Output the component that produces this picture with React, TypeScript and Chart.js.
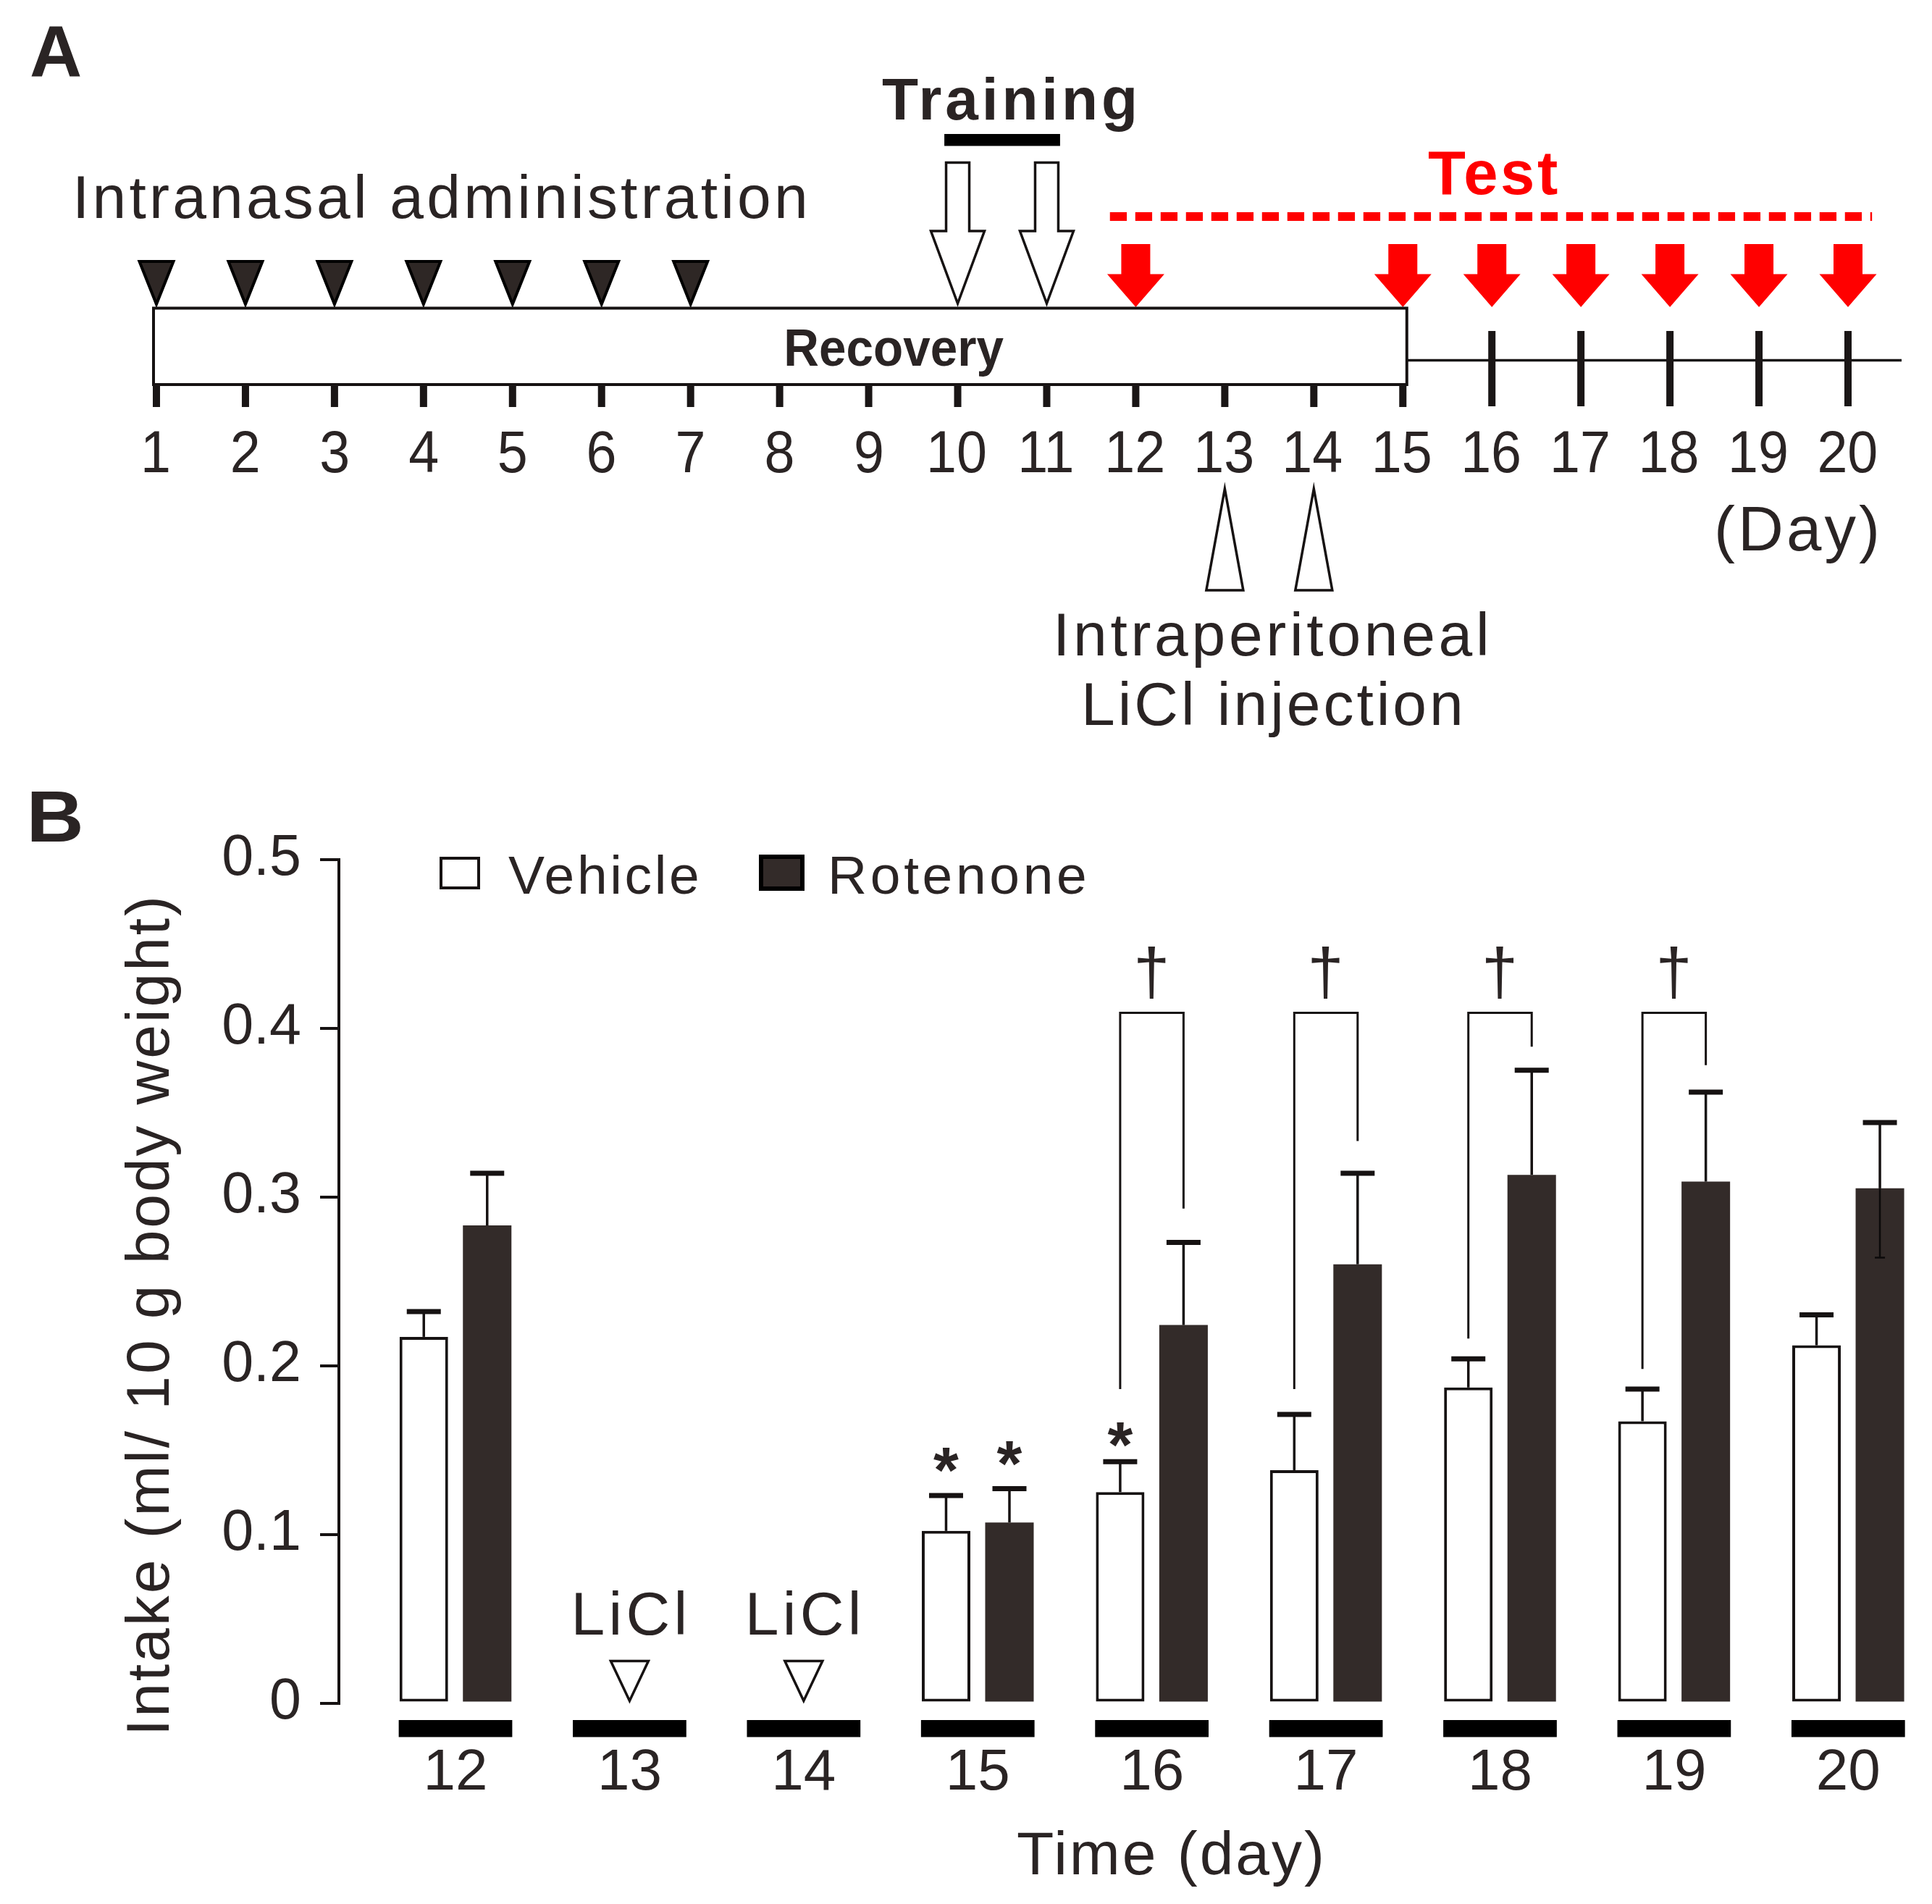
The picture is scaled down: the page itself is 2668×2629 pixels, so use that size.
import React, { useEffect, useRef } from 'react';
import { Chart, registerables } from 'chart.js';

Chart.register(...registerables);

const W = 2668;
const H = 2629;
const FONT = '"Liberation Sans", Arial, Helvetica, sans-serif';
const INK = '#2a2424';
const LINE = '#161212';
const DARK_BAR = '#332b29';
const RED = '#ff0000';

// ---------- Panel A (timeline) ----------
const timelineDays = [1, 2, 3, 4, 5, 6, 7, 8, 9, 10, 11, 12, 13, 14, 15, 16, 17, 18, 19, 20];
const intranasalDays = [1, 2, 3, 4, 5, 6, 7];
const trainingDays = [10, 11];
const testDays = [12, 15, 16, 17, 18, 19, 20];
const liclInjectionDays = [13, 14];
const recoveryDays = [1, 15];

// ---------- Panel B (intake) ----------
const intakeDays = [12, 13, 14, 15, 16, 17, 18, 19, 20];
const vehicleMean = [0.217, null, null, 0.102, 0.125, 0.138, 0.187, 0.167, 0.212];
const vehicleSem = [0.015, null, null, 0.021, 0.018, 0.033, 0.017, 0.019, 0.018];
const rotenoneMean = [0.283, null, null, 0.107, 0.224, 0.26, 0.313, 0.309, 0.305];
const rotenoneSem = [0.031, null, null, 0.02, 0.049, 0.054, 0.062, 0.053, 0.039];
const rotenoneLowerSem = [null, null, null, null, null, null, null, null, 0.041];
const yTicks = [0, 0.1, 0.2, 0.3, 0.4, 0.5];

const starSeries = [0, 1, 0];
const starDays = [15, 15, 16];
const starLevel = [0.144, 0.148, 0.159];

const bracketDays = [16, 17, 18, 19];
const bracketVehicleEnd = [0.186, 0.186, 0.216, 0.198];
const bracketRotenoneEnd = [0.293, 0.333, 0.389, 0.378];
const bracketTop = [0.409, 0.409, 0.409, 0.409];
const daggerLevel = [0.433, 0.433, 0.433, 0.433];

const liclDays = [13, 14];

// ---------- text helpers ----------
function setFont(ctx: CanvasRenderingContext2D, size: number, weight = 'normal') {
  ctx.font = `${weight} ${size}px ${FONT}`;
}

function fitText(
  ctx: CanvasRenderingContext2D,
  text: string,
  x0: number,
  x1: number,
  baseline: number,
  size: number,
  weight: string,
  color: string
) {
  ctx.save();
  setFont(ctx, size, weight);
  ctx.fillStyle = color;
  ctx.textAlign = 'left';
  ctx.textBaseline = 'alphabetic';
  const m = ctx.measureText(text);
  const inkL = m.actualBoundingBoxLeft;
  const ink = m.actualBoundingBoxLeft + m.actualBoundingBoxRight;
  const target = x1 - x0;
  const c: any = ctx;
  if (target >= ink && text.length > 1 && 'letterSpacing' in c) {
    const ls = (target - ink) / (text.length - 1);
    c.letterSpacing = `${ls}px`;
    ctx.fillText(text, x0 + inkL, baseline);
    c.letterSpacing = '0px';
  } else {
    const s = target / ink;
    ctx.translate(x0, baseline);
    ctx.scale(s, 1);
    ctx.fillText(text, inkL, 0);
  }
  ctx.restore();
}

function centerText(
  ctx: CanvasRenderingContext2D,
  text: string,
  cx: number,
  baseline: number,
  size: number,
  sx: number,
  color: string,
  weight = 'normal'
) {
  ctx.save();
  setFont(ctx, size, weight);
  ctx.fillStyle = color;
  ctx.textAlign = 'left';
  ctx.textBaseline = 'alphabetic';
  const m = ctx.measureText(text);
  ctx.translate(cx, baseline);
  ctx.scale(sx, 1);
  ctx.fillText(text, -(m.actualBoundingBoxRight - m.actualBoundingBoxLeft) / 2, 0);
  ctx.restore();
}

function glyphAt(
  ctx: CanvasRenderingContext2D,
  text: string,
  cx: number,
  cy: number,
  inkHeight: number,
  color: string,
  weight = 'normal'
) {
  ctx.save();
  setFont(ctx, 100, weight);
  let m = ctx.measureText(text);
  const h = m.actualBoundingBoxAscent + m.actualBoundingBoxDescent;
  setFont(ctx, (100 * inkHeight) / h, weight);
  m = ctx.measureText(text);
  ctx.fillStyle = color;
  ctx.textAlign = 'left';
  ctx.textBaseline = 'alphabetic';
  const x = cx - (m.actualBoundingBoxRight - m.actualBoundingBoxLeft) / 2;
  const y = cy + (m.actualBoundingBoxAscent - m.actualBoundingBoxDescent) / 2;
  ctx.fillText(text, x, y);
  ctx.restore();
}

function poly(ctx: CanvasRenderingContext2D, pts: number[][]) {
  ctx.beginPath();
  pts.forEach((p, i) => (i === 0 ? ctx.moveTo(p[0], p[1]) : ctx.lineTo(p[0], p[1])));
  ctx.closePath();
}

// ---------- Panel A plugin ----------
const panelAPlugin = {
  id: 'panelA',
  afterDraw(chart: any) {
    const ctx: CanvasRenderingContext2D = chart.ctx;
    const xs = chart.scales.x;
    const X = (d: number) => xs.getPixelForValue(d);
    const dayW = X(2) - X(1);
    ctx.save();
    ctx.lineJoin = 'miter';

    fitText(ctx, 'A', 43, 111, 106, 100, 'bold', INK);

    // Training
    fitText(ctx, 'Training', 1218, 1566, 165, 82, 'bold', INK);
    const t0 = X(trainingDays[0]) - 0.15 * dayW;
    const t1 = X(trainingDays[trainingDays.length - 1]) + 0.15 * dayW;
    ctx.fillStyle = '#000';
    ctx.fillRect(t0, 185, t1 - t0, 16.5);
    trainingDays.forEach((d) => {
      const x = X(d);
      poly(ctx, [
        [x - 16, 224.5],
        [x + 16, 224.5],
        [x + 16, 319],
        [x + 37, 319],
        [x, 419],
        [x - 37, 319],
        [x - 16, 319],
      ]);
      ctx.fillStyle = '#fff';
      ctx.fill();
      ctx.strokeStyle = LINE;
      ctx.lineWidth = 3.5;
      ctx.stroke();
    });

    // Intranasal administration
    fitText(ctx, 'Intranasal administration', 107, 1111, 301, 84, 'normal', INK);
    intranasalDays.forEach((d) => {
      const x = X(d);
      poly(ctx, [
        [x - 23.5, 361],
        [x + 23.5, 361],
        [x, 420],
      ]);
      ctx.fillStyle = '#2e2725';
      ctx.fill();
      ctx.strokeStyle = '#000';
      ctx.lineWidth = 4;
      ctx.stroke();
    });

    // Test
    fitText(ctx, 'Test', 1972, 2151, 268, 85, 'bold', RED);
    ctx.save();
    ctx.strokeStyle = RED;
    ctx.lineWidth = 12;
    ctx.setLineDash([23.3, 11.7]);
    ctx.beginPath();
    ctx.moveTo(X(testDays[0]) - 0.29 * dayW, 299);
    ctx.lineTo(X(testDays[testDays.length - 1]) + 0.27 * dayW, 299);
    ctx.stroke();
    ctx.restore();
    testDays.forEach((d) => {
      const x = X(d);
      poly(ctx, [
        [x - 20, 337],
        [x + 20, 337],
        [x + 20, 378.5],
        [x + 39.5, 378.5],
        [x, 424],
        [x - 39.5, 378.5],
        [x - 20, 378.5],
      ]);
      ctx.fillStyle = RED;
      ctx.fill();
    });

    // Recovery box
    const bx0 = X(recoveryDays[0]) - 4;
    const bx1 = X(recoveryDays[1]) + 5.5;
    ctx.fillStyle = '#fff';
    ctx.fillRect(bx0, 425.5, bx1 - bx0, 105.5);
    ctx.strokeStyle = LINE;
    ctx.lineWidth = 4;
    ctx.strokeRect(bx0, 425.5, bx1 - bx0, 105.5);
    fitText(ctx, 'Recovery', 1086, 1386, 504.5, 72, 'bold', INK);

    // line after box
    ctx.lineWidth = 3.5;
    ctx.beginPath();
    ctx.moveTo(bx1, 497.4);
    ctx.lineTo(X(timelineDays[timelineDays.length - 1]) + 74, 497.4);
    ctx.stroke();

    // ticks
    ctx.fillStyle = '#1a1616';
    timelineDays.forEach((d) => {
      const x = X(d);
      if (d <= recoveryDays[1]) ctx.fillRect(x - 5, 531, 10, 31);
      else ctx.fillRect(x - 5, 457, 10, 104);
    });

    // day labels
    timelineDays.forEach((d) => {
      centerText(ctx, String(d), X(d), 651.5, 82, 0.92, INK);
    });
    fitText(ctx, '(Day)', 2372, 2591, 760, 87, 'normal', INK);

    // LiCl injection
    liclInjectionDays.forEach((d) => {
      const x = X(d);
      poly(ctx, [
        [x, 675],
        [x + 25.5, 815],
        [x - 25.5, 815],
      ]);
      ctx.fillStyle = '#fff';
      ctx.fill();
      ctx.strokeStyle = LINE;
      ctx.lineWidth = 3.5;
      ctx.stroke();
    });
    fitText(ctx, 'Intraperitoneal', 1461, 2052, 905, 84, 'normal', INK);
    fitText(ctx, 'LiCl injection', 1499, 2016, 1001, 84, 'normal', INK);
    ctx.restore();
  },
};

// ---------- Panel B plugin ----------
const panelBPlugin = {
  id: 'panelB',
  afterDraw(chart: any) {
    const ctx: CanvasRenderingContext2D = chart.ctx;
    const xs = chart.scales.x;
    const ys = chart.scales.y;
    const area = chart.chartArea;
    const metaV = chart.getDatasetMeta(0);
    const metaR = chart.getDatasetMeta(1);
    const dayW = xs.getPixelForValue(intakeDays[1]) - xs.getPixelForValue(intakeDays[0]);
    ctx.save();

    // error bars
    const drawErr = (meta: any, means: (number | null)[], sems: (number | null)[], lowers: (number | null)[] | null) => {
      meta.data.forEach((bar: any, i: number) => {
        const m = means[i];
        const s = sems[i];
        if (m == null || s == null) return;
        const x = bar.x;
        const yBar = ys.getPixelForValue(m);
        const yTop = ys.getPixelForValue(m + s);
        ctx.strokeStyle = LINE;
        ctx.lineWidth = 3.5;
        ctx.beginPath();
        ctx.moveTo(x, yBar);
        ctx.lineTo(x, yTop);
        ctx.stroke();
        ctx.lineWidth = 7;
        ctx.beginPath();
        ctx.moveTo(x - 23.5, yTop);
        ctx.lineTo(x + 23.5, yTop);
        ctx.stroke();
        const lo = lowers ? lowers[i] : null;
        if (lo != null) {
          const yLo = ys.getPixelForValue(m - lo);
          ctx.strokeStyle = '#0c0a0a';
          ctx.lineWidth = 2.5;
          ctx.beginPath();
          ctx.moveTo(x, yBar);
          ctx.lineTo(x, yLo);
          ctx.moveTo(x - 7, yLo);
          ctx.lineTo(x + 7, yLo);
          ctx.stroke();
        }
      });
    };
    drawErr(metaV, vehicleMean, vehicleSem, null);
    drawErr(metaR, rotenoneMean, rotenoneSem, rotenoneLowerSem);

    // base bars under each day
    ctx.fillStyle = '#000';
    intakeDays.forEach((d) => {
      const x = xs.getPixelForValue(d);
      const w = 0.652 * dayW;
      ctx.fillRect(x - w / 2, area.bottom + 23.5, w, 23.5);
    });

    // stars
    starDays.forEach((d, k) => {
      const idx = intakeDays.indexOf(d);
      const meta = starSeries[k] === 0 ? metaV : metaR;
      const x = meta.data[idx].x;
      glyphAt(ctx, '*', x, ys.getPixelForValue(starLevel[k]), 34, INK, 'bold');
    });

    // brackets with daggers
    bracketDays.forEach((d, k) => {
      const idx = intakeDays.indexOf(d);
      const xl = metaV.data[idx].x;
      const xr = metaR.data[idx].x;
      const yt = ys.getPixelForValue(bracketTop[k]);
      ctx.strokeStyle = LINE;
      ctx.lineWidth = 3;
      ctx.beginPath();
      ctx.moveTo(xl, ys.getPixelForValue(bracketVehicleEnd[k]));
      ctx.lineTo(xl, yt);
      ctx.lineTo(xr, yt);
      ctx.lineTo(xr, ys.getPixelForValue(bracketRotenoneEnd[k]));
      ctx.stroke();
      glyphAt(ctx, '\u2020', (xl + xr) / 2, ys.getPixelForValue(daggerLevel[k]), 72, INK);
    });

    // LiCl markers
    liclDays.forEach((d) => {
      const x = xs.getPixelForValue(d);
      fitText(ctx, 'LiCl', x - 75, x + 75, area.bottom - 95, 84, 'normal', INK);
      poly(ctx, [
        [x - 26, area.bottom - 58],
        [x + 26, area.bottom - 58],
        [x, area.bottom - 3],
      ]);
      ctx.fillStyle = '#fff';
      ctx.fill();
      ctx.strokeStyle = LINE;
      ctx.lineWidth = 3.5;
      ctx.stroke();
    });

    // legend
    const ds = chart.data.datasets;
    ctx.fillStyle = '#fff';
    ctx.fillRect(609, 1185, 52, 41);
    ctx.strokeStyle = LINE;
    ctx.lineWidth = 4;
    ctx.strokeRect(609, 1185, 52, 41);
    fitText(ctx, ds[0].label, 702, 963, 1234, 75, 'normal', INK);
    ctx.fillStyle = DARK_BAR;
    ctx.fillRect(1051, 1183, 57, 44);
    ctx.strokeStyle = '#000';
    ctx.lineWidth = 6;
    ctx.strokeRect(1051, 1183, 57, 44);
    fitText(ctx, ds[1].label, 1149, 1498, 1234, 75, 'normal', INK);

    // panel label and titles
    fitText(ctx, 'B', 43, 111, 1162, 100, 'bold', INK);
    fitText(ctx, 'Time (day)', 1405, 1824, 2588, 84, 'normal', INK);
    ctx.save();
    ctx.translate(233, 2390);
    ctx.rotate(-Math.PI / 2);
    fitText(ctx, 'Intake (ml/ 10 g body weight)', 0, 1148, 0, 84, 'normal', INK);
    ctx.restore();

    ctx.restore();
  },
};

export default function App() {
  const refA = useRef<HTMLCanvasElement>(null);
  const refB = useRef<HTMLCanvasElement>(null);

  useEffect(() => {
    Chart.defaults.font.family = FONT;
    const chartA = new Chart(refA.current as HTMLCanvasElement, {
      type: 'scatter',
      data: { datasets: [] },
      options: {
        animation: false,
        responsive: false,
        devicePixelRatio: 1,
        events: [],
        layout: { padding: { left: 216, right: 116, top: 0, bottom: 0 } },
        plugins: { legend: { display: false }, tooltip: { enabled: false } },
        scales: {
          x: { type: 'linear', min: timelineDays[0], max: timelineDays[timelineDays.length - 1], display: false },
          y: { type: 'linear', min: 0, max: 1, display: false },
        },
      },
      plugins: [panelAPlugin],
    } as any);

    const chartB = new Chart(refB.current as HTMLCanvasElement, {
      type: 'bar',
      data: {
        datasets: [
          {
            label: 'Vehicle',
            data: intakeDays.map((d, i) => ({ x: d, y: vehicleMean[i] })),
            backgroundColor: '#ffffff',
            borderColor: LINE,
            borderWidth: 4,
            borderSkipped: false,
            categoryPercentage: 0.728,
            barPercentage: 0.766,
          },
          {
            label: 'Rotenone',
            data: intakeDays.map((d, i) => ({ x: d, y: rotenoneMean[i] })),
            backgroundColor: DARK_BAR,
            borderColor: DARK_BAR,
            borderWidth: 0,
            borderSkipped: false,
            categoryPercentage: 0.728,
            barPercentage: 0.766,
          },
        ],
      },
      options: {
        animation: false,
        responsive: false,
        devicePixelRatio: 1,
        events: [],
        layout: { padding: { left: 0, right: 8, top: 1186.5, bottom: 77.5 } },
        plugins: { legend: { display: false }, tooltip: { enabled: false } },
        scales: {
          x: {
            type: 'linear',
            offset: false,
            min: 11.3303,
            max: 20.448,
            afterBuildTicks: (axis: any) => {
              axis.ticks = intakeDays.map((v) => ({ value: v }));
            },
            afterFit: (axis: any) => {
              axis.height = 200;
            },
            grid: { display: false, drawTicks: false, offset: false },
            border: { display: false },
            ticks: {
              autoSkip: false,
              maxRotation: 0,
              padding: 49,
              color: INK,
              font: { family: FONT, size: 80 },
              callback: (v: any) => String(v),
            },
          },
          y: {
            type: 'linear',
            min: yTicks[0],
            max: yTicks[yTicks.length - 1],
            afterBuildTicks: (axis: any) => {
              axis.ticks = yTicks.map((v) => ({ value: v }));
            },
            afterFit: (axis: any) => {
              axis.width = 468;
            },
            grid: {
              drawOnChartArea: false,
              drawTicks: true,
              tickLength: 26,
              color: LINE,
              lineWidth: 4,
            },
            border: { display: true, color: LINE, width: 4 },
            ticks: {
              padding: 26,
              color: INK,
              font: { family: FONT, size: 79 },
              callback: (v: any) => (Number(v) === 0 ? '0' : Number(v).toFixed(1)),
            },
          },
        },
      },
      plugins: [panelBPlugin],
    } as any);

    return () => {
      chartA.destroy();
      chartB.destroy();
    };
  }, []);

  return (
    <div style={{ position: 'absolute', left: 0, top: 0, width: W, height: H, background: '#fff', overflow: 'hidden' }}>
      <canvas ref={refA} width={W} height={H} style={{ position: 'absolute', left: 0, top: 0, width: W, height: H }} />
      <canvas ref={refB} width={W} height={H} style={{ position: 'absolute', left: 0, top: 0, width: W, height: H }} />
    </div>
  );
}
